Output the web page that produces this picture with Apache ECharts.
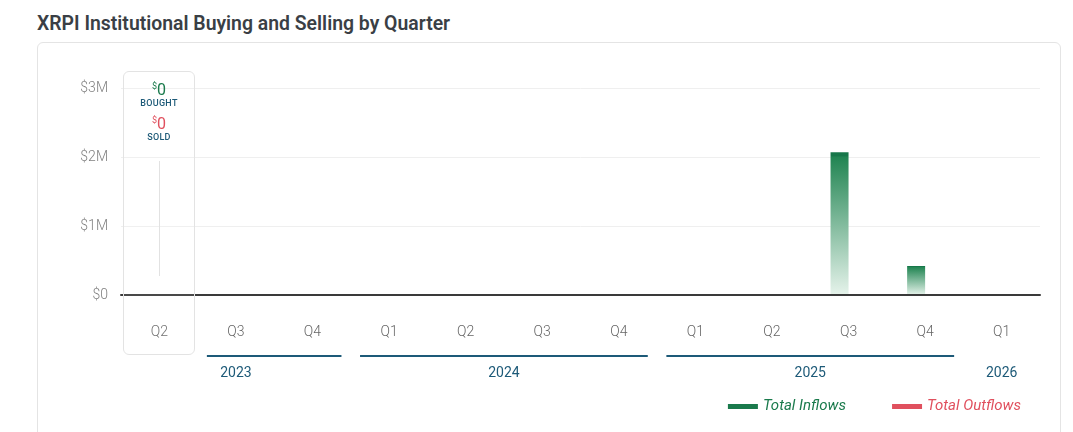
<!DOCTYPE html>
<html>
<head>
<meta charset="utf-8">
<script src="https://cdn.jsdelivr.net/npm/echarts@6/dist/echarts.min.js"></script>
<style>
  html, body { margin: 0; padding: 0; background: #fff; }
  body { width: 1073px; height: 432px; position: relative; overflow: hidden; font-family: Roboto, sans-serif; }
  #title { position: absolute; left: 37px; top: 12px; font-size: 19.4px; font-weight: 600; color: #3a3f45; }
  #card { position: absolute; left: 37px; top: 42px; width: 1022px; height: 420px; border: 1px solid #e4e4e4; border-radius: 6px; }
  #chart-container { position: absolute; left: 0; top: 0; width: 1073px; height: 432px; }
</style>
</head>
<body>
<div id="title">XRPI Institutional Buying and Selling by Quarter</div>
<div id="card"></div>
<div id="chart-container"></div>
<script>
const quarters = ['Q2', 'Q3', 'Q4', 'Q1', 'Q2', 'Q3', 'Q4', 'Q1', 'Q2', 'Q3', 'Q4', 'Q1'];
const inflows = [0, 0, 0, 0, 0, 0, 0, 0, 0, 2070000, 420000, 0];
const outflows = [0, 0, 0, 0, 0, 0, 0, 0, 0, 0, 0, 0];
const years = ['2023', '2024', '2025', '2026'];
const yearFirst = [0, 3, 7, 11];
const yearLast = [2, 6, 10, 11];
// underline spans (2023 starts after the hovered column, 2026 has none)
const yearLineFrom = [1, 3, 7, null];
const yearLineTo = [2, 6, 10, null];
const yTicks = ['$0', '$1M', '$2M', '$3M'];

const green = '#1a7a4c';
const red = '#e0505e';
const yearBlue = '#1d5a78';

function init() {
  const chart = echarts.init(document.getElementById('chart-container'));

  function money(v) {
    return yTicks[Math.round(v / 1000000)];
  }

  const option = {
    animation: false,
    color: [green, red],
    grid: { left: 121, right: 33, top: 88, bottom: 137 },
    legend: {
      right: 47,
      top: 394,
      itemWidth: 30,
      itemHeight: 5,
      itemGap: 46,
      icon: 'rect',
      textStyle: { fontStyle: 'italic', fontSize: 15, fontFamily: 'Roboto' },
      data: [
        { name: 'Total Inflows', itemStyle: { color: green }, textStyle: { color: green } },
        { name: 'Total Outflows', itemStyle: { color: red }, textStyle: { color: red } },
      ],
    },
    tooltip: {
      trigger: 'axis',
      triggerOn: 'none',
      alwaysShowContent: true,
      axisPointer: { type: 'none' },
      padding: 0,
      backgroundColor: 'rgba(255,255,255,0.08)',
      borderColor: '#e3e3e3',
      borderWidth: 1,
      borderRadius: 6,
      extraCssText: 'box-shadow:none;width:70px;height:282px;',
      position: function () {
        const cx = chart.convertToPixel({ xAxisIndex: 0 }, 0);
        return [cx - 36, 71];
      },
      formatter: function (params) {
        const bought = params[0].value;
        const sold = params[1].value;
        const amt = (v, c) =>
          '<div style="color:' + c + ';font-size:16px;line-height:17px;">' +
          '<span style="font-size:9px;vertical-align:6px;">$</span>' + (v > 0 ? (v / 1000000).toFixed(1) + 'M' : '0') + '</div>';
        const lbl = (t) => '<div style="color:' + yearBlue + ';font-size:9px;font-weight:500;line-height:10px;letter-spacing:0.3px;">' + t + '</div>';
        return '<div style="position:relative;height:282px;text-align:center;font-family:Roboto;padding-top:6px;box-sizing:border-box;">' +
          amt(bought, green) + lbl('BOUGHT') +
          '<div style="height:4px"></div>' +
          amt(sold, red) + lbl('SOLD') +
          '<div style="position:absolute;left:35px;top:89px;width:1px;height:115px;background:#e2e2e2;"></div>' +
          '</div>';
      },
    },
    xAxis: {
      type: 'category',
      data: quarters,
      axisLine: { lineStyle: { color: '#3a3a3a', width: 2 } },
      axisTick: { show: false },
      axisLabel: { color: '#666', fontSize: 14, fontWeight: 300, margin: 30, fontFamily: 'Roboto' },
      z: 10,
    },
    yAxis: {
      type: 'value',
      min: 0,
      max: 3000000,
      interval: 1000000,
      axisLabel: { color: '#808080', fontSize: 14, fontWeight: 300, margin: 13, formatter: money, fontFamily: 'Roboto' },
      splitLine: { lineStyle: { color: '#efefef', width: 1 } },
    },
    series: [
      {
        name: 'Total Inflows',
        type: 'bar',
        data: inflows,
        barWidth: 18,
        barGap: '0%',
        itemStyle: {
          color: new echarts.graphic.LinearGradient(0, 0, 0, 1, [
            { offset: 0, color: '#17774a' },
            { offset: 0.025, color: '#17774a' },
            { offset: 0.035, color: '#228553' },
            { offset: 1, color: '#e6f3eb' },
          ]),
        },
      },
      {
        name: 'Total Outflows',
        type: 'bar',
        data: outflows,
        barWidth: 18,
        itemStyle: { color: red },
      },
    ],
  };
  chart.setOption(option);

  // year row under the quarter labels
  const graphics = [];
  const step = chart.convertToPixel({ xAxisIndex: 0 }, 1) - chart.convertToPixel({ xAxisIndex: 0 }, 0);
  years.forEach((y, i) => {
    const x0 = chart.convertToPixel({ xAxisIndex: 0 }, yearFirst[i]) - step / 2;
    const x1 = chart.convertToPixel({ xAxisIndex: 0 }, yearLast[i]) + step / 2;
    graphics.push({
      type: 'text',
      x: (x0 + x1) / 2,
      y: 373,
      style: { text: y, fill: yearBlue, font: '14px Roboto', align: 'center', verticalAlign: 'middle' },
    });
    if (yearLineFrom[i] !== null) {
      const l0 = chart.convertToPixel({ xAxisIndex: 0 }, yearLineFrom[i]) - 29;
      const l1 = chart.convertToPixel({ xAxisIndex: 0 }, yearLineTo[i]) + 29;
      graphics.push({
        type: 'line',
        shape: { x1: l0, y1: 356, x2: l1, y2: 356 },
        style: { stroke: yearBlue, lineWidth: 2 },
      });
    }
  });
  chart.setOption({ graphic: graphics });

  chart.dispatchAction({ type: 'showTip', seriesIndex: 0, dataIndex: 0 });
}
init();
</script>
</body>
</html>
